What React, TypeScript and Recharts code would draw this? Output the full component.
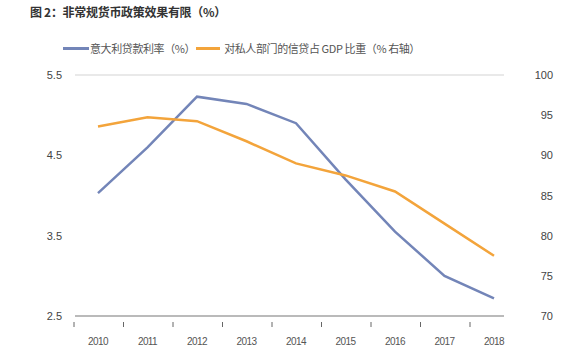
import { CartesianGrid, Line, LineChart, XAxis, YAxis } from "recharts"

const years = ["2010", "2011", "2012", "2013", "2014", "2015", "2016", "2017", "2018"]
const lendingRate = [4.03, 4.6, 5.23, 5.14, 4.9, 4.2, 3.55, 3.0, 2.72]
const privateCredit = [93.6, 94.75, 94.25, 91.75, 89.0, 87.5, 85.5, 81.5, 77.5]
const leftTicks = [2.5, 3.5, 4.5, 5.5]
const rightTicks = [70, 75, 80, 85, 90, 95, 100]

const data = years.map((year, i) => ({
  year,
  rate: lendingRate[i],
  credit: privateCredit[i],
}))

const FONT = '"Liberation Sans", "Noto Sans CJK SC", sans-serif'
const CJK = '"Noto Sans CJK SC", sans-serif'
const BLUE = "#7385b8"
const ORANGE = "#f3a43b"

const XTick = (props: any) => {
  const { x, y, payload } = props
  return (
    <g>
      <line x1={x - 24} x2={x - 24} y1={y - 2} y2={y + 3} stroke="#666" strokeWidth={1} />
      <text x={x} y={y + 21} textAnchor="middle" fontSize={10} fill="#555" fontFamily={FONT} letterSpacing={-0.6}>
        {payload.value}
      </text>
    </g>
  )
}

const RightTick = (props: any) => {
  const { x, y, payload } = props
  return (
    <text x={x + 41} y={y + 4} textAnchor="end" fontSize={11} fill="#444" fontFamily={FONT}>
      {payload.value}
    </text>
  )
}

export default function App() {
  return (
    <div style={{ position: "absolute", left: 0, top: 0, width: 577, height: 360, background: "#fff" }}>
      <div style={{ position: "absolute", left: 30, top: 3, fontSize: 12, fontWeight: "bold", color: "#333", fontFamily: CJK, letterSpacing: -0.3 }}>
        图 2：非常规货币政策效果有限（%）
      </div>
      <div
        style={{
          position: "absolute",
          left: 63,
          top: 40,
          display: "flex",
          alignItems: "center",
          fontFamily: CJK,
          fontSize: 11,
          color: "#555",
          letterSpacing: -0.4,
          whiteSpace: "nowrap",
        }}
      >
        <span style={{ display: "inline-block", width: 26, height: 3, background: BLUE, marginRight: 1 }} />
        <span>意大利贷款利率（%）</span>
        <span style={{ display: "inline-block", width: 24, height: 3, background: ORANGE, marginLeft: 1, marginRight: 4 }} />
        <span>对私人部门的信贷占 GDP 比重（% 右轴）</span>
      </div>
      <div style={{ position: "absolute", left: 0, top: 0 }}>
        <LineChart width={577} height={360} data={data} margin={{ top: 75, right: 0, bottom: 0, left: 0 }}>
          <CartesianGrid vertical={false} stroke="#e2e2e2" strokeWidth={1.5} />
          <XAxis
            dataKey="year"
            height={44}
            padding={{ left: 23, right: 10 }}
            tickLine={false}
            axisLine={{ stroke: "#aaa", strokeWidth: 1.5 }}
            tick={<XTick />}
            interval={0}
          />
          <YAxis
            yAxisId="left"
            width={75}
            domain={[2.5, 5.5]}
            ticks={leftTicks}
            tickFormatter={(v: number) => v.toFixed(1)}
            axisLine={false}
            tickLine={false}
            tickSize={0}
            tickMargin={13}
            tick={{ fontSize: 11, fill: "#444", fontFamily: FONT }}
          />
          <YAxis
            yAxisId="right"
            orientation="right"
            width={73}
            domain={[70, 100]}
            ticks={rightTicks}
            axisLine={false}
            tickLine={false}
            tick={<RightTick />}
          />
          <Line
            yAxisId="left"
            dataKey="rate"
            stroke={BLUE}
            strokeWidth={2.5}
            dot={false}
            activeDot={false}
            isAnimationActive={false}
          />
          <Line
            yAxisId="right"
            dataKey="credit"
            stroke={ORANGE}
            strokeWidth={2.5}
            dot={false}
            activeDot={false}
            isAnimationActive={false}
          />
        </LineChart>
      </div>
    </div>
  )
}
